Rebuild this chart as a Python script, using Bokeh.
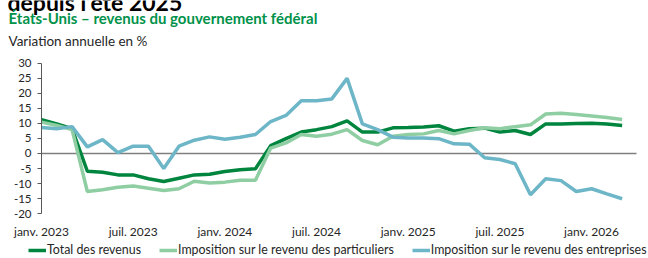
from bokeh.plotting import figure
from bokeh.models import (Range1d, FixedTicker, Label, Legend, LegendItem, ColumnDataSource, LinearAxis)
from bokeh.embed import file_html
from bokeh.resources import INLINE

# ---- data (monthly, Jan 2023 .. Mar 2026), year-over-year % change ----
months = list(range(39))
tick_positions = [0, 6, 12, 18, 24, 30, 36]
tick_labels = ["janv. 2023", "juil. 2023", "janv. 2024", "juil. 2024",
               "janv. 2025", "juil. 2025", "janv. 2026"]
y_ticks = [-20, -15, -10, -5, 0, 5, 10, 15, 20, 25, 30]

total = [11.2, 9.8, 8.2, -5.9, -6.2, -7.1, -7.1, -8.4, -9.3, -8.2,
         -7.1, -6.9, -6.0, -5.4, -5.1, 2.6, 4.9, 7.1, 7.9, 8.9,
         10.8, 7.1, 7.1, 8.5, 8.6, 8.8, 9.2, 7.4, 8.2, 8.4,
         7.1, 7.6, 6.3, 9.8, 9.8, 9.9, 10.0, 9.8, 9.3]
particuliers = [10.4, 9.3, 7.9, -12.6, -12.0, -11.2, -10.8, -11.5, -12.3, -11.7,
                -9.2, -9.8, -9.5, -8.9, -8.9, 1.8, 3.5, 6.3, 5.7, 6.4,
                7.9, 4.3, 2.9, 5.7, 6.3, 6.5, 7.6, 6.5, 7.6, 8.5,
                8.2, 8.9, 9.5, 13.1, 13.3, 12.9, 12.4, 11.9, 11.3]
entreprises = [8.6, 8.2, 8.9, 2.2, 4.6, 0.3, 2.4, 2.4, -5.0, 2.4,
               4.4, 5.5, 4.7, 5.4, 6.3, 10.6, 12.6, 17.5, 17.5, 18.1,
               24.9, 9.8, 7.9, 5.4, 5.1, 5.1, 4.9, 3.2, 3.1, -1.4,
               -2.0, -3.4, -13.7, -8.4, -9.0, -12.6, -11.7, -13.4, -15.0]

series_names = ["Total des revenus",
                "Imposition sur le revenu des particuliers",
                "Imposition sur le revenu des entreprises"]
series_colors = ["#00853e", "#8fcea2", "#6db6c8"]

FONT = "Lato"
W, H = 648, 258

# plot-area geometry (pixels) and the data extent that it shows
X_LO, X_HI = 0, 38.94
Y_LO, Y_HI = -20, 30
PX_L, PX_R = 41, 636
PY_T, PY_B = 62.5, 213.3
sx = (PX_R - PX_L) / (X_HI - X_LO)
sy = (PY_B - PY_T) / (Y_HI - Y_LO)
x_range = Range1d(X_LO - PX_L / sx, X_HI + (W - PX_R) / sx)
y_range = Range1d(Y_LO - (H - PY_B) / sy, Y_HI + PY_T / sy)


def px2x(px):
    return x_range.start + px / sx


def py2y(py):
    return y_range.end - py / sy


p = figure(width=W, height=H, output_backend="svg", toolbar_location=None,
           x_range=x_range, y_range=y_range, x_axis_type=None, y_axis_type=None,
           min_border=0, min_border_left=0, min_border_right=0,
           min_border_top=0, min_border_bottom=0)
p.outline_line_color = None
p.grid.visible = False
p.background_fill_color = "white"
p.border_fill_color = "white"

# zero line (drawn under the series)
zero_axis = LinearAxis(fixed_location=0, bounds=(X_LO, X_HI), ticker=FixedTicker(ticks=[]),
                       axis_line_color="#7f7f7f", axis_line_width=1.5,
                       major_tick_line_color=None, minor_tick_line_color=None,
                       major_label_text_font_size="0px", level="underlay")
p.add_layout(zero_axis, "below")

# y axis
ya = LinearAxis(fixed_location=X_LO, bounds=(Y_LO, Y_HI), ticker=FixedTicker(ticks=y_ticks))
ya.major_label_overrides = {v: str(v) for v in y_ticks}
ya.axis_line_color = "#595959"
ya.major_tick_line_color = "#595959"
ya.major_tick_out = 4
ya.major_tick_in = 0
ya.minor_tick_line_color = None
ya.major_label_standoff = 6
ya.major_label_text_font = FONT
ya.major_label_text_font_size = "11.5px"
ya.major_label_text_color = "#262626"
p.add_layout(ya, "left")

# x axis (labels only, at the bottom of the plot area)
xa = LinearAxis(fixed_location=Y_LO, bounds=(X_LO, X_HI), ticker=FixedTicker(ticks=tick_positions))
xa.major_label_overrides = dict(zip(tick_positions, tick_labels))
xa.axis_line_color = None
xa.major_tick_line_color = None
xa.minor_tick_line_color = None
xa.major_tick_out = 0
xa.major_label_standoff = 10
xa.major_label_text_font = FONT
xa.major_label_text_font_size = "12px"
xa.major_label_text_color = "#262626"
p.add_layout(xa, "below")

renderers = []
for vals, col in zip([total, particuliers, entreprises], series_colors):
    src = ColumnDataSource(dict(x=months, y=vals))
    r = p.line("x", "y", source=src, line_color=col, line_width=3.5)
    renderers.append(r)

legend = Legend(items=[LegendItem(label=n, renderers=[r]) for n, r in zip(series_names, renderers)],
                orientation="horizontal", location=(28, 1),
                glyph_width=18, glyph_height=14, label_height=14,
                label_standoff=1, spacing=18, padding=0, margin=0,
                border_line_color=None, background_fill_alpha=0,
                label_text_font=FONT, label_text_font_size="12.4px",
                label_text_color="#262626")
p.add_layout(legend, "center")

p.add_layout(Label(x=px2x(7), y=py2y(1),
                   text="depuis l’été 2025", text_font=FONT, text_font_style="bold",
                   text_font_size="23px", text_color="#000000", text_baseline="alphabetic"))
p.add_layout(Label(x=px2x(8), y=py2y(17.7),
                   text="États-Unis – revenus du gouvernement fédéral", text_font=FONT,
                   text_font_style="bold", text_font_size="15px", text_color="#00924a",
                   text_baseline="alphabetic"))
p.add_layout(Label(x=px2x(8), y=py2y(40),
                   text="Variation annuelle en %", text_font=FONT,
                   text_font_size="13.5px", text_color="#262626",
                   text_baseline="alphabetic"))

open("out.html", "w").write(file_html(p, INLINE))
